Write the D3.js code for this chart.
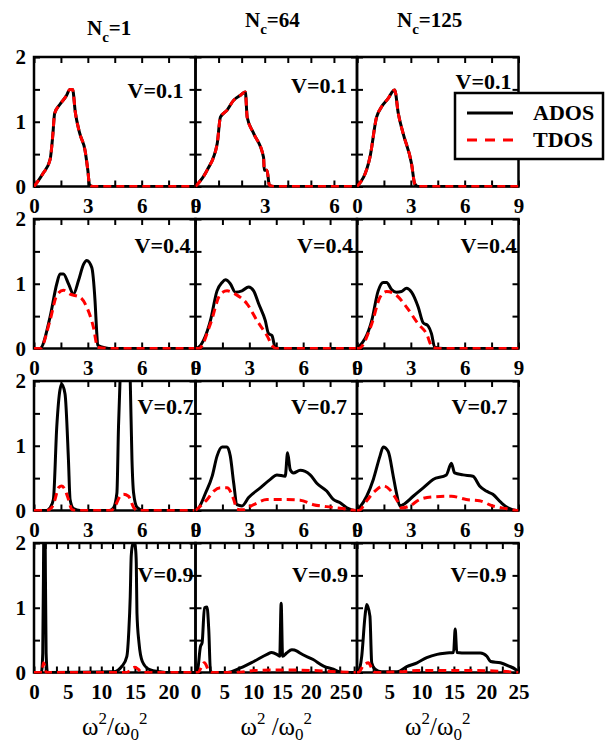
<!DOCTYPE html>
<html lang="en">
<head>
<meta charset="UTF-8">
<title>ADOS / TDOS panels</title>
<script src="https://d3js.org/d3.v7.min.js"></script>
<style>
    body { margin: 0; background: #fff; }
    svg text { font-family: "Liberation Serif", "Times New Roman", serif !important; fill: #000; }
    .tick text { font-weight: bold; font-size: 21px; }
    .tick line { stroke: #000; stroke-width: 2; }
    .vlabel, .legend { font-weight: bold; font-size: 22px; }
    .title { font-weight: bold; font-size: 21px; }
    .xtitle { font-size: 25px; }
</style>
</head>
<body>
<div id="chart"></div>
<script>
    // columns / rows of the figure
    const clusterSizes = ["1", "64", "125"];
    const disorderValues = ["0.1", "0.4", "0.7", "0.9"];
    const seriesNames = ["ADOS", "TDOS"];

    // V = 0.1
    const adosV01Nc1 = [[0,0],[0.5,0.2],[0.9,0.42],[1.05,0.8],[1.15,1.13],[1.45,1.27],[1.8,1.4],[2.0,1.5],[2.15,1.5],[2.3,1.15],[2.55,0.82],[2.85,0.55],[3.0,0.25],[3.1,0.02],[3.3,0],[9,0]];
    const tdosV01Nc1 = [[0,0],[0.5,0.2],[0.9,0.42],[1.05,0.8],[1.15,1.13],[1.45,1.27],[1.8,1.4],[2.0,1.5],[2.15,1.5],[2.3,1.15],[2.55,0.82],[2.85,0.55],[3.0,0.25],[3.1,0.02],[3.3,0],[9,0]];
    const adosV01Nc64 = [[0,0],[0.5,0.25],[0.94,0.66],[1.08,1.07],[1.37,1.18],[1.65,1.33],[1.95,1.41],[2.16,1.46],[2.24,1.07],[2.52,0.82],[2.95,0.45],[2.98,0.25],[3.1,0.25],[3.2,0.02],[3.4,0],[7,0]];
    const tdosV01Nc64 = [[0,0],[0.5,0.25],[0.94,0.66],[1.08,1.07],[1.37,1.18],[1.65,1.33],[1.95,1.41],[2.16,1.46],[2.24,1.07],[2.52,0.82],[2.95,0.45],[2.98,0.25],[3.1,0.25],[3.2,0.02],[3.4,0],[7,0]];
    const adosV01Nc125 = [[0,0],[0.72,0.45],[1.09,1.07],[1.37,1.23],[1.74,1.36],[2.02,1.48],[2.1,1.49],[2.3,1.13],[2.57,0.82],[3.04,0.35],[3.22,0.04],[3.4,0],[9,0]];
    const tdosV01Nc125 = [[0,0],[0.72,0.45],[1.09,1.07],[1.37,1.23],[1.74,1.36],[2.02,1.48],[2.1,1.49],[2.3,1.13],[2.57,0.82],[3.04,0.35],[3.22,0.04],[3.4,0],[9,0]];

    // V = 0.4
    const adosV04Nc1 = [[0,0],[0.33,0],[0.89,0.48],[1.27,1.0],[1.45,1.15],[1.64,1.15],[1.92,1.0],[2.2,0.84],[2.48,1.05],[2.76,1.3],[2.94,1.36],[3.22,1.25],[3.4,0.74],[3.5,0.23],[3.55,0.05],[4.0,0.01],[4.3,0],[9,0]];
    const tdosV04Nc1 = [[0,0],[0.35,0],[0.89,0.43],[1.27,0.82],[1.64,0.9],[2.01,0.84],[2.57,0.79],[2.94,0.64],[3.31,0.33],[3.55,0.02],[4.2,0],[9,0]];
    const adosV04Nc64 = [[0,0],[0.18,0.02],[0.83,0.43],[1.2,0.89],[1.48,1.02],[1.67,1.06],[1.94,1.0],[2.22,0.87],[2.59,0.89],[2.96,0.95],[3.24,0.89],[3.52,0.69],[3.89,0.43],[4.07,0.23],[4.26,0.2],[4.44,0.02],[4.7,0],[9,0]];
    const tdosV04Nc64 = [[0,0],[0.2,0],[0.83,0.38],[1.39,0.84],[1.76,0.89],[2.22,0.84],[2.87,0.69],[3.43,0.43],[3.98,0.2],[4.35,0.02],[4.5,0],[9,0]];
    const adosV04Nc125 = [[0,0],[0.08,0.02],[0.82,0.43],[1.18,0.89],[1.46,1.02],[1.65,1.02],[1.93,0.91],[2.2,0.87],[2.48,0.88],[2.76,0.93],[3.04,0.87],[3.41,0.64],[3.68,0.4],[3.96,0.35],[4.15,0.23],[4.33,0.02],[4.8,0],[9,0]];
    const tdosV04Nc125 = [[0,0],[0.1,0],[0.82,0.38],[1.28,0.79],[1.65,0.88],[2.11,0.84],[2.76,0.64],[3.41,0.38],[3.87,0.23],[4.2,0.02],[4.5,0],[9,0]];

    // V = 0.7
    const adosV07Nc1 = [[0,0],[0.7,0],[0.89,0.04],[1.08,0.17],[1.27,1.3],[1.45,1.87],[1.55,1.95],[1.73,1.8],[1.92,0.78],[2.01,0.17],[2.2,0.03],[2.57,0],[4.2,0],[4.43,0.04],[4.62,0.27],[4.71,1.3],[4.8,2.05],[4.95,2.8],[5.1,3.0],[5.25,2.8],[5.36,2.05],[5.46,0.78],[5.55,0.27],[5.74,0.05],[6.1,0],[9,0]];
    const tdosV07Nc1 = [[0,0],[0.7,0],[1.0,0.05],[1.17,0.17],[1.36,0.35],[1.55,0.38],[1.73,0.32],[1.92,0.17],[2.1,0.02],[2.3,0],[4.3,0],[4.52,0.07],[4.8,0.22],[4.99,0.25],[5.27,0.22],[5.55,0.05],[5.8,0],[9,0]];
    const adosV07Nc64 = [[0,0],[0.18,0.04],[0.56,0.27],[0.93,0.53],[1.2,0.84],[1.48,0.98],[1.76,0.98],[1.94,0.84],[2.13,0.42],[2.31,0.09],[2.59,0.07],[2.96,0.2],[3.61,0.35],[4.17,0.48],[4.54,0.55],[5.0,0.53],[5.13,0.89],[5.28,0.63],[5.46,0.58],[5.83,0.62],[6.39,0.55],[6.76,0.42],[7.31,0.3],[7.68,0.17],[8.06,0.12],[8.43,0.04],[8.9,0],[9,0]];
    const tdosV07Nc64 = [[0,0],[0.2,0.05],[0.65,0.17],[1.02,0.3],[1.39,0.35],[1.76,0.35],[2.13,0.17],[2.31,0.02],[2.6,0.01],[3.24,0.09],[3.98,0.17],[4.9,0.17],[5.83,0.16],[6.57,0.09],[7.3,0.06],[8.2,0.03],[8.9,0],[9,0]];
    const adosV07Nc125 = [[0,0],[0.13,0.04],[0.54,0.22],[0.91,0.48],[1.28,0.84],[1.46,0.98],[1.74,0.91],[2.02,0.53],[2.2,0.27],[2.39,0.07],[2.57,0.09],[3.13,0.22],[3.69,0.35],[4.24,0.48],[4.98,0.55],[5.26,0.73],[5.44,0.58],[5.91,0.55],[6.46,0.53],[6.83,0.38],[7.2,0.3],[7.57,0.25],[8.04,0.12],[8.41,0.04],[8.9,0],[9,0]];
    const tdosV07Nc125 = [[0,0],[0.1,0],[0.54,0.15],[1.0,0.3],[1.46,0.38],[1.83,0.32],[2.2,0.17],[2.48,0.04],[2.94,0.07],[3.5,0.17],[4.24,0.21],[5.26,0.22],[6.09,0.17],[6.83,0.15],[7.57,0.07],[8.3,0.03],[8.9,0],[9,0]];

    // V = 0.9
    const adosV09Nc1 = [[0,0],[1.1,0],[1.3,0.3],[1.45,2.2],[1.55,3.5],[1.65,2.2],[1.8,0.3],[2.0,0],[11.8,0.01],[13.1,0.1],[13.8,0.25],[14.1,0.66],[14.3,1.17],[14.45,1.8],[14.65,1.97],[14.9,2.0],[15.1,1.9],[15.2,1.69],[15.3,0.92],[15.6,0.46],[16.1,0.17],[17.1,0.05],[18.8,0.01],[19.5,0],[24,0]];
    const tdosV09Nc1 = [[0,0],[1.2,0],[1.4,0.15],[1.6,0.1],[1.8,0],[13.8,0],[14.5,0.06],[15.0,0.08],[15.5,0.05],[16,0],[24,0]];
    const adosV09Nc64 = [[0,0],[0.3,0.01],[0.86,0.4],[1.15,0.46],[1.55,1.0],[2.0,1.01],[2.3,0.66],[2.6,0.01],[3.0,0],[5.5,0],[7.8,0.07],[10.1,0.17],[12.4,0.28],[13.2,0.31],[14.1,0.28],[14.6,0.25],[14.85,1.07],[15.1,0.25],[15.8,0.3],[16.7,0.35],[17.6,0.33],[18.1,0.3],[20.4,0.2],[22.2,0.1],[23.9,0.05],[25,0.01],[26,0],[28,0]];
    const tdosV09Nc64 = [[0,0],[0.4,0],[1.55,0.15],[2.3,0.03],[2.8,0],[7,0],[10.1,0.03],[14.5,0.04],[20.4,0.03],[25,0.01],[28,0]];
    const adosV09Nc125 = [[0,0],[0.2,0.01],[0.73,0.25],[1.24,0.87],[1.5,1.05],[2.0,0.87],[2.28,0.15],[2.8,0.05],[3.8,0.01],[6.2,0.01],[7.7,0.09],[9.3,0.15],[10.8,0.23],[12.4,0.28],[13.9,0.3],[14.95,0.31],[15.2,0.67],[15.45,0.31],[17.0,0.3],[19.1,0.3],[20.1,0.25],[20.7,0.17],[22.2,0.15],[23.5,0.1],[24.5,0.05],[25,0]];
    const tdosV09Nc125 = [[0,0],[0.2,0],[0.95,0.1],[1.76,0.15],[2.28,0.07],[2.8,0],[6.7,0.01],[9.3,0.03],[17,0.03],[22.2,0.02],[25,0]];

    const adosGrid = [
        [adosV01Nc1, adosV01Nc64, adosV01Nc125],
        [adosV04Nc1, adosV04Nc64, adosV04Nc125],
        [adosV07Nc1, adosV07Nc64, adosV07Nc125],
        [adosV09Nc1, adosV09Nc64, adosV09Nc125]
    ];
    const tdosGrid = [
        [tdosV01Nc1, tdosV01Nc64, tdosV01Nc125],
        [tdosV04Nc1, tdosV04Nc64, tdosV04Nc125],
        [tdosV07Nc1, tdosV07Nc64, tdosV07Nc125],
        [tdosV09Nc1, tdosV09Nc64, tdosV09Nc125]
    ];

    // axis ranges and tick labels
    const xMaxGrid = [[9, 7, 9], [9, 9, 9], [9, 9, 9], [24, 28, 25]];
    const xStepGrid = [[1.5, 1, 1.5], [1.5, 1.5, 1.5], [1.5, 1.5, 1.5], [5 / 3, 2.5, 2.5]];
    const xLabelsSmall = [0, 3, 6, 9];
    const xLabelsLarge = [0, 5, 10, 15, 20, 25];
    const xLabelGrid = [
        [xLabelsSmall, [0, 3, 6], xLabelsSmall],
        [xLabelsSmall, xLabelsSmall, xLabelsSmall],
        [xLabelsSmall, xLabelsSmall, xLabelsSmall],
        [[0, 5, 10, 15, 20], xLabelsLarge, xLabelsLarge]
    ];
    const yTickValues = [0, 0.5, 1, 1.5, 2];
    const yLabels = [0, 1, 2];

    // layout
    const width = 605, height = 744;
    const plotLeft = 34, plotTop = 57, panelW = 161.5, panelH = 129.5, rowStep = 162;
    const vLabelInset = [[12, 10, 7], [5, 4, 2], [2, 10, 11], [2, 9, 12]];
    const vLabelBase = [[41, 36, 32], [34, 34, 34], [33, 33, 33], [39, 39, 39]];
    const titleX = [87, 245, 397], titleY = [35, 27, 27];
    const serif = '"Liberation Serif", "Times New Roman", serif';

    const svg = d3.select("#chart").append("svg")
        .attr("width", width)
        .attr("height", height);
    svg.append("rect").attr("width", width).attr("height", height).attr("fill", "#fff");

    const hasValue = (arr, d) => arr.some(v => Math.abs(v - d) < 1e-6);

    const line = (x, y) => d3.line()
        .x(d => x(d[0])).y(d => y(d[1]))
        .curve(d3.curveMonotoneX);

    disorderValues.forEach((v, r) => {
        clusterSizes.forEach((nc, c) => {
            const g = svg.append("g")
                .attr("transform", `translate(${plotLeft + c * panelW},${plotTop + r * rowStep})`);

            const x = d3.scaleLinear().domain([0, xMaxGrid[r][c]]).range([0, panelW]);
            const y = d3.scaleLinear().domain([0, 2]).range([panelH, 0]);
            const xTicks = d3.range(0, xMaxGrid[r][c] + 1e-6, xStepGrid[r][c]);
            const labels = xLabelGrid[r][c];

            g.append("g")
                .attr("transform", `translate(0,${panelH})`)
                .call(d3.axisBottom(x).tickValues(xTicks).tickSize(-6).tickPadding(12)
                    .tickFormat(d => hasValue(labels, d) ? Math.round(d) : ""))
                .call(a => a.select(".domain").remove());
            g.append("g")
                .call(d3.axisTop(x).tickValues(xTicks).tickSize(-6).tickFormat(""))
                .call(a => a.select(".domain").remove());
            g.append("g")
                .call(d3.axisLeft(y).tickValues(yTickValues).tickSize(-6).tickPadding(8)
                    .tickFormat(d => (c === 0 && hasValue(yLabels, d)) ? d : ""))
                .call(a => a.select(".domain").remove());
            g.append("g")
                .attr("transform", `translate(${panelW},0)`)
                .call(d3.axisRight(y).tickValues(yTickValues).tickSize(-6).tickFormat(""))
                .call(a => a.select(".domain").remove());
            g.selectAll(".tick text")
                .attr("fill", "#000")
                .style("font-family", serif)
                .style("font-weight", "bold")
                .style("font-size", "21px");

            g.append("rect")
                .attr("width", panelW).attr("height", panelH)
                .attr("fill", "none").attr("stroke", "#000").attr("stroke-width", 2.5);

            const clipId = `clip-${r}-${c}`;
            g.append("clipPath").attr("id", clipId)
                .append("rect").attr("x", 0).attr("y", 0)
                .attr("width", panelW).attr("height", panelH + 1);

            const curves = g.append("g").attr("clip-path", `url(#${clipId})`);
            curves.append("path")
                .datum(adosGrid[r][c])
                .attr("d", line(x, y))
                .attr("fill", "none").attr("stroke", "#000")
                .attr("stroke-width", 3).attr("stroke-linejoin", "round");
            curves.append("path")
                .datum(tdosGrid[r][c])
                .attr("d", line(x, y))
                .attr("fill", "none").attr("stroke", "#ff0000")
                .attr("stroke-width", 3).attr("stroke-dasharray", "8,5");

            g.append("text")
                .attr("class", "vlabel")
                .attr("x", panelW - vLabelInset[r][c])
                .attr("y", vLabelBase[r][c])
                .attr("text-anchor", "end")
                .text(`V=${v}`);
        });
    });

    // column titles N_c
    clusterSizes.forEach((nc, c) => {
        const t = svg.append("text").attr("class", "title")
            .attr("x", titleX[c]).attr("y", titleY[c]);
        t.append("tspan").text("N");
        t.append("tspan").attr("font-size", 15).attr("dy", 7).text("c");
        t.append("tspan").attr("dy", -7).text(`=${nc}`);
    });

    // x axis titles
    clusterSizes.forEach((nc, c) => {
        const t = svg.append("text").attr("class", "xtitle")
            .attr("x", plotLeft + (c + 0.5) * panelW).attr("y", 735)
            .attr("text-anchor", "middle");
        t.append("tspan").text("ω");
        t.append("tspan").attr("font-size", 17).attr("dy", -11).text("2");
        t.append("tspan").attr("dy", 11).text(c === 1 ? " /ω" : "/ω");
        t.append("tspan").attr("font-size", 17).attr("dy", 5).text("0");
        t.append("tspan").attr("font-size", 17).attr("dy", -16).text("2");
    });

    // legend
    const legend = svg.append("g").attr("transform", "translate(455,93)");
    legend.append("rect").attr("width", 148).attr("height", 66)
        .attr("fill", "#fff").attr("stroke", "#000").attr("stroke-width", 2.5);
    seriesNames.forEach((name, i) => {
        const ly = 20 + i * 27;
        legend.append("line")
            .attr("x1", 12).attr("x2", 58).attr("y1", ly).attr("y2", ly)
            .attr("stroke", i === 0 ? "#000" : "#ff0000")
            .attr("stroke-width", 3)
            .attr("stroke-dasharray", i === 0 ? null : "10,8");
        legend.append("text").attr("class", "legend")
            .attr("x", 78).attr("y", ly + 7).text(name);
    });
</script>
</body>
</html>
